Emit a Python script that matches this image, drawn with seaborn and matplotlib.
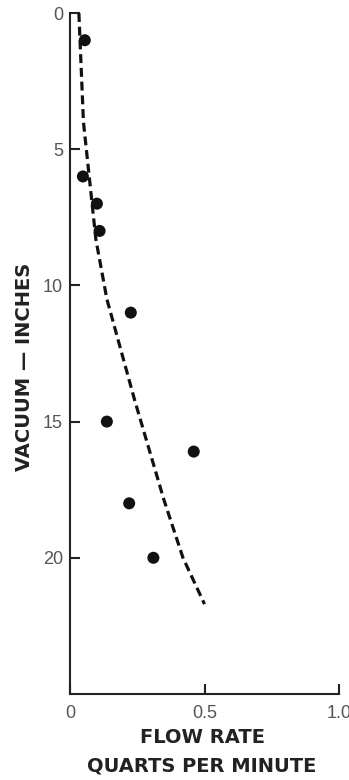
import matplotlib
matplotlib.use("Agg")
import matplotlib.pyplot as plt
import seaborn as sns
import pandas as pd

# Measured points
flow_rate = [0.055, 0.048, 0.10, 0.11, 0.226, 0.137, 0.46, 0.22, 0.31]
vacuum = [1.0, 6.0, 7.0, 8.0, 11.0, 15.0, 16.1, 18.0, 20.0]

# Dashed fitted curve
curve_vacuum = [0.0, 4.0, 8.3, 10.5, 14.2, 17.9, 20.0, 21.7]
curve_flow = [0.033, 0.050, 0.096, 0.137, 0.240, 0.350, 0.420, 0.500]

x_ticks = [0, 0.5, 1.0]
x_tick_labels = ["0", "0.5", "1.0"]
y_ticks = [0, 5, 10, 15, 20]
y_tick_labels = ["0", "5", "10", "15", "20"]

sns.set_theme(style="white")
plt.rcParams['font.family'] = ['DejaVu Sans']

fig = plt.figure(figsize=(3.49, 7.8), dpi=100)
ax = fig.add_axes([70/349, 1 - 694/780, 269/349, 681/780])

pts = pd.DataFrame({"flow": flow_rate, "vacuum": vacuum})
curve = pd.DataFrame({"flow": curve_flow, "vacuum": curve_vacuum})

sns.lineplot(data=curve, x="flow", y="vacuum", ax=ax, color="#111111",
             linewidth=2.3, linestyle=(0, (2.8, 1.5)), sort=False, estimator=None)
sns.scatterplot(data=pts, x="flow", y="vacuum", ax=ax, color="#111111",
                s=75, edgecolor="none", zorder=3)

ax.set_xlim(0, 1.0)
ax.set_ylim(25, 0)

for s in ["top", "right"]:
    ax.spines[s].set_visible(False)
for s in ["left", "bottom"]:
    ax.spines[s].set_linewidth(1.5)
    ax.spines[s].set_color("#222222")

ax.set_xticks(x_ticks)
ax.set_xticklabels(x_tick_labels)
ax.set_yticks(y_ticks)
ax.set_yticklabels(y_tick_labels)

tick_font = ['Liberation Sans', 'DejaVu Sans']
for lab in ax.get_xticklabels() + ax.get_yticklabels():
    lab.set_family(tick_font)
    lab.set_fontsize(13)
    lab.set_color("#555555")

ax.tick_params(axis="x", direction="in", length=7, width=1.5, color="#222222", pad=8, bottom=True)
ax.tick_params(axis="y", direction="in", length=7, width=1.5, color="#222222", pad=5, left=True)

ax.set_ylabel("VACUUM — INCHES", fontsize=14, fontweight="bold", color="#222222")
ax.yaxis.set_label_coords(-36/269, 0.48)
ax.set_xlabel("FLOW RATE\nQUARTS PER MINUTE", fontsize=14, fontweight="bold",
              color="#222222", linespacing=1.65)
ax.xaxis.set_label_coords((202 - 70)/269, -34/681)
ax.xaxis.label.set_verticalalignment("top")

fig.savefig("out.png", dpi=100)
